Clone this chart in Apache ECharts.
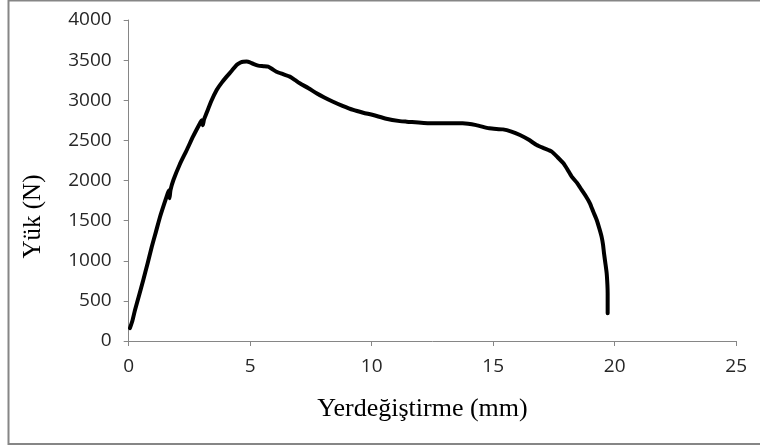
<!DOCTYPE html>
<html>
<head>
<meta charset="utf-8">
<script src="https://cdn.jsdelivr.net/npm/echarts@6/dist/echarts.min.js"></script>
<style>
html,body{margin:0;padding:0;background:#fff;}
#chart{width:760px;height:448px;}
</style>
</head>
<body>
<div id="chart"></div>
<script>
// Displacement (mm)
const displacement = [0.05, 0.15, 0.26, 0.42, 0.6, 0.78, 0.95, 1.12, 1.29, 1.45, 1.56, 1.62, 1.66, 1.68, 1.72, 1.84, 2.1, 2.39, 2.65, 2.93, 3.0, 3.05, 3.1, 3.2, 3.4, 3.62, 3.83, 4.03, 4.25, 4.44, 4.6, 4.71, 4.85, 4.99, 5.15, 5.33, 5.55, 5.74, 5.9, 6.08, 6.35, 6.63, 6.85, 7.04, 7.4, 7.73, 8.05, 8.41, 8.8, 9.24, 9.65, 10.06, 10.6, 11.16, 11.44, 12.4, 13.1, 13.74, 14.3, 14.84, 15.4, 15.75, 16.1, 16.45, 16.79, 17.1, 17.41, 17.65, 17.89, 18.05, 18.23, 18.45, 18.64, 18.82, 18.98, 19.12, 19.26, 19.37, 19.46, 19.52, 19.56, 19.62, 19.67, 19.7, 19.71, 19.71];
// Load (N)
const load = [160, 250, 386, 560, 760, 970, 1175, 1360, 1549, 1700, 1798, 1850, 1880, 1780, 1880, 2006, 2200, 2380, 2550, 2712, 2750, 2690, 2760, 2837, 2990, 3128, 3220, 3294, 3370, 3439, 3470, 3481, 3482, 3473, 3450, 3431, 3425, 3418, 3390, 3356, 3325, 3294, 3250, 3211, 3150, 3087, 3035, 2982, 2930, 2879, 2845, 2816, 2770, 2740, 2733, 2712, 2712, 2712, 2690, 2650, 2637, 2610, 2567, 2510, 2442, 2400, 2359, 2290, 2214, 2140, 2048, 1970, 1882, 1800, 1716, 1610, 1508, 1400, 1300, 1200, 1093, 960, 843, 700, 594, 345];
// Axis ticks
const xTicks = [0, 5, 10, 15, 20, 25];
const yTicks = [0, 500, 1000, 1500, 2000, 2500, 3000, 3500, 4000];
const xTitle = 'Yerdeğiştirme (mm)';
const yTitle = 'Yük (N)';

const chart = echarts.init(document.getElementById('chart'), null, {renderer: 'canvas'});
const axisColor = '#868686';
const labelStyle = {color: '#262626', fontFamily: '"Open Sans", sans-serif', fontSize: 19, formatter: v => String(v)};

chart.setOption({
  animation: false,
  backgroundColor: '#ffffff',
  grid: {left: 128.7, right: 23.8, top: 20, bottom: 107, containLabel: false},
  xAxis: {
    type: 'value',
    min: xTicks[0], max: xTicks[xTicks.length - 1], interval: xTicks[1] - xTicks[0],
    axisLine: {show: true, lineStyle: {color: axisColor, width: 1}},
    axisTick: {show: true, inside: false, length: 5, lineStyle: {color: axisColor}},
    axisLabel: Object.assign({margin: 16}, labelStyle),
    splitLine: {show: false}
  },
  yAxis: {
    type: 'value',
    min: yTicks[0], max: yTicks[yTicks.length - 1], interval: yTicks[1] - yTicks[0],
    axisLine: {show: true, lineStyle: {color: axisColor, width: 1}},
    axisTick: {show: true, inside: false, length: 5, lineStyle: {color: axisColor}},
    axisLabel: Object.assign({margin: 17}, labelStyle),
    splitLine: {show: false}
  },
  series: [{
    type: 'line',
    data: displacement.map((x, i) => [x, load[i]]),
    showSymbol: false,
    smooth: 0.2,
    lineStyle: {color: '#000000', width: 4, cap: 'round', join: 'round'},
    clip: false
  }],
  graphic: [
    {type: 'rect', shape: {x: 8.5, y: 0.5, width: 760, height: 443.5},
     style: {fill: 'none', stroke: axisColor, lineWidth: 2}, silent: true},
    {type: 'text', x: 422.5, y: 409,
     style: {text: xTitle, font: '26px "Liberation Serif", serif', fill: '#000', textAlign: 'center', textVerticalAlign: 'middle'}},
    {type: 'text', x: 33.6, y: 216.5, rotation: Math.PI / 2,
     style: {text: yTitle, font: '25px "Liberation Serif", serif', fill: '#000', textAlign: 'center', textVerticalAlign: 'middle'}}
  ]
});
</script>
</body>
</html>
